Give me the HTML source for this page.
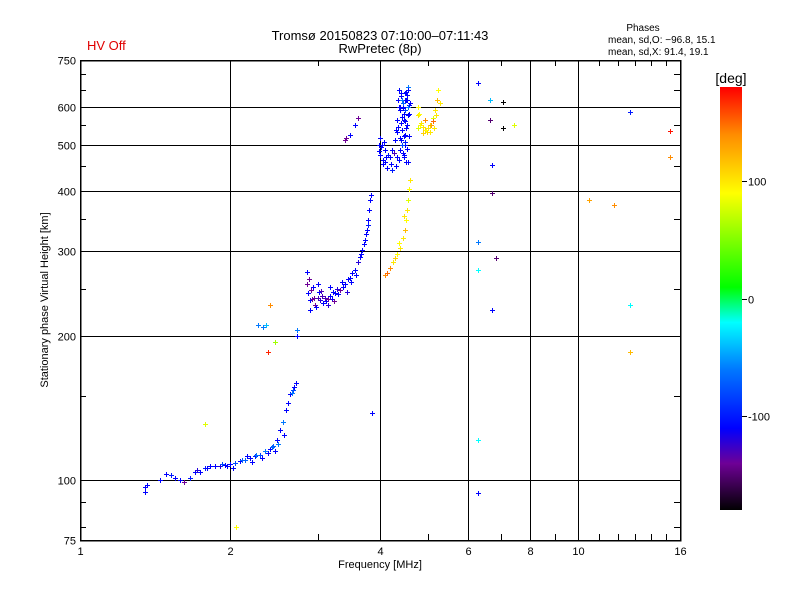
<!DOCTYPE html>
<html><head><meta charset="utf-8"><style>
html,body{margin:0;padding:0;background:#fff;}
svg{display:block;font-family:"Liberation Sans",sans-serif;}
</style></head><body>
<svg id="chart" width="800" height="600" viewBox="0 0 800 600" xmlns="http://www.w3.org/2000/svg">
<rect x="0" y="0" width="800" height="600" fill="#fff"/>
<text x="87" y="50" font-size="13" fill="#e00000">HV Off</text>
<text x="380" y="40" font-size="13" text-anchor="middle">Tromsø 20150823 07:10:00–07:11:43</text>
<text x="380" y="53" font-size="13" text-anchor="middle">RwPretec (8p)</text>
<text x="643" y="31" font-size="10" text-anchor="middle">Phases</text>
<text x="608" y="43" font-size="10">mean, sd,O: −96.8, 15.1</text>
<text x="608" y="55" font-size="10">mean, sd,X:  91.4, 19.1</text>
<text transform="translate(48,300) rotate(-90)" font-size="11" text-anchor="middle">Stationary phase Virtual Height [km]</text>
<text x="380" y="568" font-size="11" text-anchor="middle">Frequency [MHz]</text>
<text x="731" y="83" font-size="14" text-anchor="middle">[deg]</text>
<g id="grid" shape-rendering="crispEdges"></g>
<g id="marks" shape-rendering="crispEdges"></g>
<g id="axes" shape-rendering="crispEdges"></g>
<g id="cbar" shape-rendering="crispEdges"></g>
</svg>
<script>
// frequency ticks
const xTicks = [1, 2, 4, 6, 8, 10, 16];
const xMinor = [3, 5, 7, 9, 11, 12, 13, 14, 15];
// height ticks
const yTicks = [75, 100, 200, 300, 400, 500, 600, 750];
const yMinor = [80, 90, 150, 250, 350, 450, 550, 650, 700];
const cbTicks = [100, 0, -100];
// echoes: frequency (MHz), virtual height (km), phase (deg)
const freqs = [
1.35,1.35,1.36,1.45,1.52,1.55,1.59,1.66,1.70,1.74,1.78,1.82,1.87,1.91,1.95,2.0,2.05,2.09,2.14,2.19,2.24,2.30,2.35,2.41,2.44,2.48,2.52,2.55,2.59,2.64,2.67,2.71,
1.72,1.80,1.93,1.97,2.03,2.11,2.16,2.21,2.26,2.32,2.38,2.43,2.46,2.50,2.57,2.61,2.66,2.69,1.49,1.62,
2.28,2.33,2.36,2.73,2.73,2.46,
2.85,2.85,2.89,2.96,3.03,3.10,3.17,3.25,3.33,3.40,3.48,3.56,3.61,3.68,3.73,3.77,3.78,3.80,3.82,3.83,2.91,3.0,2.89,3.06,3.14,2.95,3.02,3.20,3.28,3.37,3.45,3.52,3.64,
2.87,2.92,2.98,3.05,3.12,3.18,3.23,3.30,3.36,3.43,3.50,3.58,3.66,3.71,3.75,3.79,2.88,2.94,3.00,3.08,3.15,3.22,
4.09,4.19,4.24,4.32,4.39,4.44,4.49,4.51,4.53,4.55,4.57,4.59,4.14,4.28,4.36,4.47,
4.0,3.98,4.0,4.06,4.14,4.22,4.31,4.36,4.39,4.41,4.43,4.46,4.48,4.49,4.52,4.55,4.53,4.57,4.55,4.53,4.49,4.48,4.46,4.28,4.22,4.15,4.09,3.40,3.48,3.56,3.61,3.42,4.32,4.34,4.39,4.31,4.42,4.45,4.50,4.40,4.36,4.03,4.12,
4.37,4.41,4.44,4.47,4.50,4.52,4.54,4.56,4.58,4.38,4.42,4.46,4.50,4.54,4.35,4.40,4.44,4.48,4.52,4.56,4.33,4.38,4.43,4.47,4.51,4.55,4.05,4.10,4.18,4.26,4.01,3.99,4.07,4.20,4.33,4.45,4.58,4.59,
4.77,4.81,4.92,5.04,5.11,5.16,5.21,5.24,5.28,4.92,5.04,4.77,4.77,4.87,4.98,5.10,4.84,4.95,5.00,5.07,4.80,4.89,5.13,5.18,
6.29,6.29,6.29,6.29,6.29,6.64,6.64,6.72,6.72,6.72,6.84,7.06,7.06,7.44,10.5,11.8,12.7,12.7,12.7,15.3,15.3,
2.41,2.38,1.78,2.06,3.86
];
const heights = [
96.7,94.5,97.6,100,102.5,101,100,101,103.7,104,106,107,107,107,107.5,108,108.5,109.5,110,111,112,113,115,116,118,121,127,132,140,151,154,159,
105,106,108,107,106,110,112,109,113,111,114,117,115,119,124,145,152,156,103,99,
210,208,210,200,205,194,
271,256,237,232,237,239,242,245,249,256,264,274,284,301,316,332,348,365,383,392,249,256,226,242,232,240,247,238,250,252,262,270,292,
245,238,229,248,236,252,236,244,258,246,258,268,296,310,325,340,262,252,240,234,238,246,
267,276,284,296,305,319,332,348,365,383,404,422,270,290,312,355,
515,485,476,456,446,442,450,464,487,511,536,563,590,619,644,659,635,604,577,549,524,499,476,511,487,476,487,511,524,549,568,516,563,619,590,536,620,600,560,640,600,500,470,
650,630,610,580,560,540,620,600,580,600,570,520,505,490,545,555,595,640,620,650,530,515,500,470,460,460,465,460,470,480,495,500,505,455,470,480,520,610,
577,549,536,532,568,590,619,650,610,563,549,600,540,545,530,560,555,535,540,550,580,528,540,575,
672,313,274,121,94,619,563,453,396,226,290,612,541,549,383,374,585,232,185,534,470,
232,185,131,80,138
];
const phases = [
-110,-110,-110,-110,-100,-110,-110,-100,-110,-110,-100,-110,-110,-120,-110,-110,-80,-110,-70,-110,-100,-80,-60,-110,-70,-110,-110,-60,-110,-110,-80,-110,
-120,-110,-80,-110,-110,-70,-110,-110,-60,-110,-110,-70,-110,-60,-110,-110,-60,-110,-110,-140,
-60,-60,-40,-110,-60,60,
-110,-140,-110,-140,-120,-130,-110,-110,-140,-110,-110,-110,-120,-110,-110,-110,-110,-110,-110,-110,-140,-110,-110,-130,-120,-140,-110,-110,-120,-110,-110,-110,-110,
-110,-140,-110,-130,-110,-110,-140,-110,-110,-120,-110,-110,-110,-110,-110,-100,-140,-110,-130,-110,-140,-110,
140,140,100,90,100,100,120,90,100,80,90,100,150,110,90,100,
-110,-110,-110,-110,-110,-100,-110,-110,-110,-110,-110,-110,-80,-110,-110,-60,-110,-110,-110,-110,-110,-110,-110,-110,-110,-100,-110,-140,-110,-110,-140,-140,-110,-110,-110,-110,-60,-110,-110,-110,-110,-110,-110,
-110,-110,-70,-110,-110,-110,-110,-60,-110,-110,-110,-110,-100,-110,-110,-110,-110,-110,-110,-110,-110,-110,-80,-110,-110,-110,-110,-110,-110,-130,-110,-110,-110,-110,-110,-110,-110,-110,
100,90,110,100,80,100,120,90,100,140,110,90,80,100,110,150,100,90,100,130,90,110,100,100,
-110,-60,-20,-20,-110,-40,-150,-110,-150,-110,-150,-180,-180,80,130,140,-100,-20,120,175,140,
140,170,80,90,-110
];
const X0=80,X1=680,Y0=540,Y1=60;
function xs(f){return X0+(X1-X0)*Math.log(f)/Math.log(16);}
function ys(h){return Y0-(Y0-Y1)*Math.log10(h/75);}
const stops=[[-180,0,0,0],[-140,110,0,150],[-110,0,0,255],[-60,0,120,255],[-20,0,255,255],[10,0,255,0],[90,255,255,0],[140,255,140,0],[180,255,0,0]];
function col(p){
  if(p<=stops[0][0])return 'rgb(0,0,0)';
  for(let i=1;i<stops.length;i++){
    if(p<=stops[i][0]){const a=stops[i-1],b=stops[i];const t=(p-a[0])/(b[0]-a[0]);
      return 'rgb('+[1,2,3].map(k=>Math.round(a[k]+(b[k]-a[k])*t)).join(',')+')';}
  }
  return 'rgb(255,0,0)';
}
const NS='http://www.w3.org/2000/svg';
function mk(tag,attrs,parent){const e=document.createElementNS(NS,tag);for(const k in attrs)e.setAttribute(k,attrs[k]);parent.appendChild(e);return e;}
const grid=document.getElementById('grid'),axes=document.getElementById('axes'),marks=document.getElementById('marks'),cbar=document.getElementById('cbar');
xTicks.forEach(f=>{
  const x=Math.round(xs(f))+0.5;
  if(f>1&&f<16){const l=mk('line',{x1:x,y1:Y1,x2:x,y2:Y0,stroke:'#000','stroke-width':1},grid);
    
    }
  const t=mk('text',{x:x,y:Y0+15,'font-size':11,'text-anchor':'middle'},axes);t.textContent=f;
  
  
});
xMinor.forEach(f=>{const x=Math.round(xs(f))+0.5;
  mk('line',{x1:x,y1:Y0,x2:x,y2:Y0-6,stroke:'#000'},axes);
  mk('line',{x1:x,y1:Y1,x2:x,y2:Y1+6,stroke:'#000'},axes);});
yTicks.forEach(h=>{
  const y=Math.round(ys(h))+0.5;
  if(h>75&&h<750){const l=mk('line',{x1:X0,y1:y,x2:X1,y2:y,stroke:'#000','stroke-width':1},grid);
    
    }
  const t=mk('text',{x:X0-4,y:y+4,'font-size':11,'text-anchor':'end'},axes);t.textContent=h;
  
  
});
yMinor.forEach(h=>{const y=Math.round(ys(h))+0.5;
  mk('line',{x1:X0,y1:y,x2:X0+6,y2:y,stroke:'#000'},axes);
  mk('line',{x1:X1,y1:y,x2:X1-6,y2:y,stroke:'#000'},axes);});
const frame=mk('rect',{x:X0+0.5,y:Y1+0.5,width:X1-X0,height:Y0-Y1,fill:'none',stroke:'#000','stroke-width':1.5},axes);


for(let i=0;i<freqs.length;i++){
  const x=Math.round(xs(freqs[i])),y=Math.round(ys(heights[i])),c=col(phases[i]);
  const g=mk('g',{fill:c},marks);
  
  
  mk('rect',{x:x-2,y:y,width:5,height:1},g);
  mk('rect',{x:x,y:y-2,width:1,height:5},g);
}
// colorbar
const CX=720,CW=22,CT=87,CB=510,PMIN=-180,PMAX=180;
function cy(p){return CB-(CB-CT)*(p-PMIN)/(PMAX-PMIN);}
for(let y=CT;y<CB;y++){
  const p=PMAX-(y-CT)/(CB-CT)*(PMAX-PMIN);
  mk('rect',{x:CX,y:y,width:CW,height:1,fill:col(p)},cbar);
}
cbTicks.forEach(p=>{const y=Math.round(cy(p))+0.5;
  mk('line',{x1:CX+CW,y1:y,x2:CX+CW+5,y2:y,stroke:'#000'},cbar);
  const t=mk('text',{x:CX+CW+6,y:y+4,'font-size':11},cbar);t.textContent=p;
  
  });
</script>
</body></html>
